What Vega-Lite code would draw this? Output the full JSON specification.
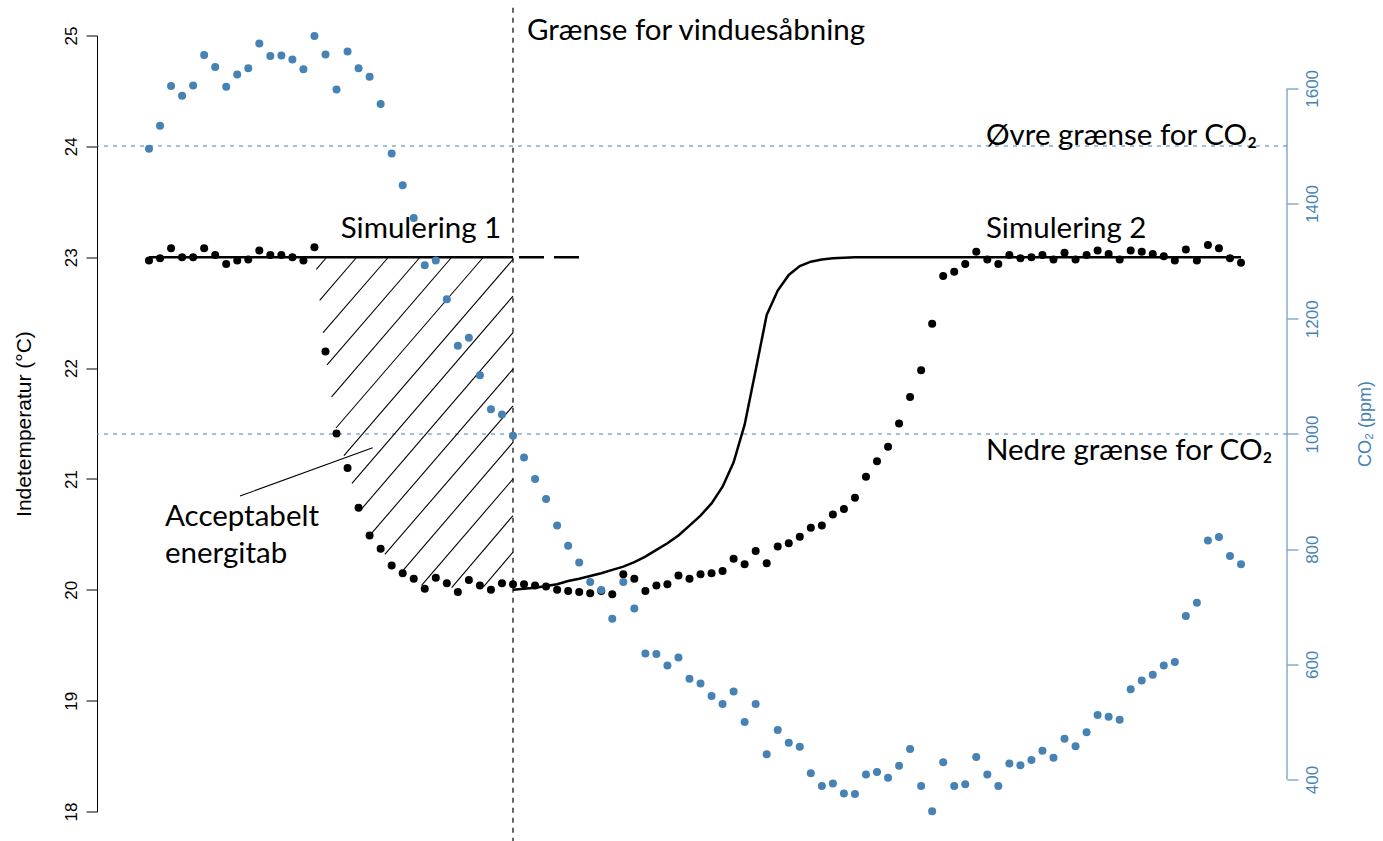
{
  "$schema": "https://vega.github.io/schema/vega-lite/v6.json",
  "width": 1190,
  "height": 776.1,
  "autosize": {"type": "none"},
  "padding": {"left": 97, "top": 35.5, "right": 96, "bottom": 29.4},
  "background": "white",
  "config": {"view": {"stroke": null}, "axis": {"grid": false}},
  "datasets": {
    "temp": [
      {"i":1,"temp":22.97},{"i":2,"temp":22.99},{"i":3,"temp":23.08},{"i":4,"temp":23.0},{"i":5,"temp":23.0},
      {"i":6,"temp":23.08},{"i":7,"temp":23.02},{"i":8,"temp":22.94},{"i":9,"temp":22.97},{"i":10,"temp":22.98},
      {"i":11,"temp":23.06},{"i":12,"temp":23.02},{"i":13,"temp":23.02},{"i":14,"temp":23.0},{"i":15,"temp":22.97},
      {"i":16,"temp":23.09},{"i":17,"temp":22.15},{"i":18,"temp":21.41},{"i":19,"temp":21.1},{"i":20,"temp":20.74},
      {"i":21,"temp":20.49},{"i":22,"temp":20.37},{"i":23,"temp":20.22},{"i":24,"temp":20.15},{"i":25,"temp":20.1},
      {"i":26,"temp":20.01},{"i":27,"temp":20.11},{"i":28,"temp":20.06},{"i":29,"temp":19.98},{"i":30,"temp":20.09},
      {"i":31,"temp":20.04},{"i":32,"temp":20.0},{"i":33,"temp":20.06},{"i":34,"temp":20.05},{"i":35,"temp":20.05},
      {"i":36,"temp":20.04},{"i":37,"temp":20.03},{"i":38,"temp":20.0},{"i":39,"temp":19.99},{"i":40,"temp":19.98},
      {"i":41,"temp":19.97},{"i":42,"temp":19.99},{"i":43,"temp":19.96},{"i":44,"temp":20.14},{"i":45,"temp":20.1},
      {"i":46,"temp":19.99},{"i":47,"temp":20.04},{"i":48,"temp":20.05},{"i":49,"temp":20.13},{"i":50,"temp":20.1},
      {"i":51,"temp":20.14},{"i":52,"temp":20.15},{"i":53,"temp":20.17},{"i":54,"temp":20.28},{"i":55,"temp":20.23},
      {"i":56,"temp":20.35},{"i":57,"temp":20.24},{"i":58,"temp":20.39},{"i":59,"temp":20.42},{"i":60,"temp":20.48},
      {"i":61,"temp":20.56},{"i":62,"temp":20.58},{"i":63,"temp":20.68},{"i":64,"temp":20.73},{"i":65,"temp":20.83},
      {"i":66,"temp":21.02},{"i":67,"temp":21.16},{"i":68,"temp":21.29},{"i":69,"temp":21.5},{"i":70,"temp":21.74},
      {"i":71,"temp":21.98},{"i":72,"temp":22.4},{"i":73,"temp":22.83},{"i":74,"temp":22.87},{"i":75,"temp":22.94},
      {"i":76,"temp":23.05},{"i":77,"temp":22.98},{"i":78,"temp":22.94},{"i":79,"temp":23.02},{"i":80,"temp":22.99},
      {"i":81,"temp":23.0},{"i":82,"temp":23.02},{"i":83,"temp":22.98},{"i":84,"temp":23.04},{"i":85,"temp":22.98},
      {"i":86,"temp":23.02},{"i":87,"temp":23.06},{"i":88,"temp":23.03},{"i":89,"temp":22.98},{"i":90,"temp":23.06},
      {"i":91,"temp":23.05},{"i":92,"temp":23.03},{"i":93,"temp":23.01},{"i":94,"temp":22.97},{"i":95,"temp":23.07},
      {"i":96,"temp":22.97},{"i":97,"temp":23.11},{"i":98,"temp":23.08},{"i":99,"temp":22.99},{"i":100,"temp":22.95}
    ],
    "co2": [
      {"i":1,"co2":1495},{"i":2,"co2":1535},{"i":3,"co2":1604},{"i":4,"co2":1587},{"i":5,"co2":1605},
      {"i":6,"co2":1658},{"i":7,"co2":1637},{"i":8,"co2":1603},{"i":9,"co2":1624},{"i":10,"co2":1635},
      {"i":11,"co2":1678},{"i":12,"co2":1656},{"i":13,"co2":1657},{"i":14,"co2":1650},{"i":15,"co2":1633},
      {"i":16,"co2":1691},{"i":17,"co2":1659},{"i":18,"co2":1598},{"i":19,"co2":1664},{"i":20,"co2":1635},
      {"i":21,"co2":1620},{"i":22,"co2":1573},{"i":23,"co2":1487},{"i":24,"co2":1432},{"i":25,"co2":1375},
      {"i":26,"co2":1293},{"i":27,"co2":1301},{"i":28,"co2":1234},{"i":29,"co2":1153},{"i":30,"co2":1167},
      {"i":31,"co2":1102},{"i":32,"co2":1043},{"i":33,"co2":1034},{"i":34,"co2":997},{"i":35,"co2":959},
      {"i":36,"co2":922},{"i":37,"co2":887},{"i":38,"co2":841},{"i":39,"co2":806},{"i":40,"co2":777},
      {"i":41,"co2":743},{"i":42,"co2":729},{"i":43,"co2":679},{"i":44,"co2":743},{"i":45,"co2":697},
      {"i":46,"co2":619},{"i":47,"co2":618},{"i":48,"co2":598},{"i":49,"co2":612},{"i":50,"co2":575},
      {"i":51,"co2":567},{"i":52,"co2":545},{"i":53,"co2":531},{"i":54,"co2":553},{"i":55,"co2":500},
      {"i":56,"co2":531},{"i":57,"co2":444},{"i":58,"co2":486},{"i":59,"co2":464},{"i":60,"co2":457},
      {"i":61,"co2":411},{"i":62,"co2":389},{"i":63,"co2":393},{"i":64,"co2":376},{"i":65,"co2":375},
      {"i":66,"co2":409},{"i":67,"co2":413},{"i":68,"co2":403},{"i":69,"co2":424},{"i":70,"co2":453},
      {"i":71,"co2":389},{"i":72,"co2":345},{"i":73,"co2":430},{"i":74,"co2":389},{"i":75,"co2":392},
      {"i":76,"co2":439},{"i":77,"co2":409},{"i":78,"co2":389},{"i":79,"co2":428},{"i":80,"co2":425},
      {"i":81,"co2":434},{"i":82,"co2":450},{"i":83,"co2":438},{"i":84,"co2":471},{"i":85,"co2":458},
      {"i":86,"co2":482},{"i":87,"co2":512},{"i":88,"co2":509},{"i":89,"co2":504},{"i":90,"co2":557},
      {"i":91,"co2":572},{"i":92,"co2":582},{"i":93,"co2":598},{"i":94,"co2":604},{"i":95,"co2":684},
      {"i":96,"co2":707},{"i":97,"co2":815},{"i":98,"co2":821},{"i":99,"co2":788},{"i":100,"co2":774}
    ],
    "sim1": [{"i":1,"temp":23},{"i":34,"temp":23}],
    "sim1ext": [{"i":34,"temp":23},{"i":40.1,"temp":23}],
    "sim2": [
      {"i":34,"temp":20.0},{"i":35,"temp":20.01},{"i":36,"temp":20.02},{"i":37,"temp":20.035},{"i":38,"temp":20.05},
      {"i":39,"temp":20.08},{"i":40,"temp":20.1},{"i":41,"temp":20.125},{"i":42,"temp":20.15},{"i":43,"temp":20.18},
      {"i":44,"temp":20.21},{"i":45,"temp":20.25},{"i":46,"temp":20.3},{"i":47,"temp":20.36},{"i":48,"temp":20.42},
      {"i":49,"temp":20.49},{"i":50,"temp":20.58},{"i":51,"temp":20.67},{"i":52,"temp":20.78},{"i":53,"temp":20.93},
      {"i":54,"temp":21.15},{"i":55,"temp":21.49},{"i":56,"temp":21.98},{"i":57,"temp":22.48},{"i":58,"temp":22.7},
      {"i":59,"temp":22.84},{"i":60,"temp":22.92},{"i":61,"temp":22.96},{"i":62,"temp":22.98},{"i":63,"temp":22.99},
      {"i":64,"temp":22.995},{"i":65,"temp":23.0},{"i":100,"temp":23.0}
    ],
    "hatch": [
      {"i0":16.17,"t0":22.89,"i1":17.11,"t1":23},
      {"i0":16.47,"t0":22.61,"i1":19.83,"t1":23},
      {"i0":16.78,"t0":22.32,"i1":22.7,"t1":23},
      {"i0":17.14,"t0":22.03,"i1":25.57,"t1":23},
      {"i0":17.55,"t0":21.74,"i1":28.44,"t1":23},
      {"i0":17.95,"t0":21.46,"i1":31.31,"t1":23},
      {"i0":18.67,"t0":21.21,"i1":34,"t1":22.98},
      {"i0":19.4,"t0":20.96,"i1":34,"t1":22.65},
      {"i0":20.1,"t0":20.71,"i1":34,"t1":22.32},
      {"i0":21.0,"t0":20.49,"i1":34,"t1":21.99},
      {"i0":22.38,"t0":20.32,"i1":34,"t1":21.66},
      {"i0":23.9,"t0":20.16,"i1":34,"t1":21.33},
      {"i0":25.71,"t0":20.04,"i1":34,"t1":21.0},
      {"i0":28.44,"t0":20.02,"i1":34,"t1":20.67},
      {"i0":31.34,"t0":20.03,"i1":34,"t1":20.34}
    ],
    "window": [{"event":"Grænse for vinduesåbning","i":34}],
    "limits": [{"limit":"Øvre grænse for CO₂","co2":1500},{"limit":"Nedre grænse for CO₂","co2":1000}]
  },
  "layer": [
    {
      "data": {"name": "limits"},
      "mark": {"type": "rule", "stroke": "steelblue", "strokeWidth": 1.2, "strokeDash": [4, 5]},
      "encoding": {
        "y": {"field": "co2", "type": "quantitative", "scale": {"domain": [344.4, 1691.8], "nice": false, "zero": false}, "axis": null}
      }
    },
    {
      "data": {"name": "hatch"},
      "mark": {"type": "rule", "stroke": "black", "strokeWidth": 1.1},
      "encoding": {
        "x": {"field": "i0", "type": "quantitative", "scale": {"domain": [-3.714, 104.17], "nice": false, "zero": false}, "axis": null},
        "x2": {"field": "i1"},
        "y": {"field": "t0", "type": "quantitative", "scale": {"domain": [18, 25], "nice": false, "zero": false},
          "axis": {"orient": "left", "values": [18,19,20,21,22,23,24,25], "labelAngle": -90, "labelAlign": "center", "labelBaseline": "bottom",
            "labelFont": "Liberation Sans", "labelFontSize": 17, "labelColor": "black", "labelPadding": 6, "labelFlush": false, "labelOverlap": false,
            "tickColor": "black", "tickSize": 11, "tickWidth": 1, "domainColor": "black", "domainWidth": 1,
            "title": "Indetemperatur (°C)", "titleFont": "Liberation Sans", "titleFontSize": 21, "titleFontWeight": "normal", "titleColor": "black", "titlePadding": 28}},
        "y2": {"field": "t1"}
      }
    },
    {
      "data": {"name": "window"},
      "mark": {"type": "rule", "stroke": "black", "strokeWidth": 1.2, "strokeDash": [5, 5]},
      "encoding": {
        "x": {"field": "i", "type": "quantitative", "scale": {"domain": [-3.714, 104.17], "nice": false, "zero": false}, "axis": null},
        "y": {"datum": 17.72, "type": "quantitative", "scale": {"domain": [18, 25], "nice": false, "zero": false}, "axis": null},
        "y2": {"datum": 25.28}
      }
    },
    {
      "data": {"name": "sim1"},
      "mark": {"type": "line", "stroke": "black", "strokeWidth": 2.5},
      "encoding": {
        "x": {"field": "i", "type": "quantitative", "scale": {"domain": [-3.714, 104.17], "nice": false, "zero": false}, "axis": null},
        "y": {"field": "temp", "type": "quantitative", "scale": {"domain": [18, 25], "nice": false, "zero": false}, "axis": null}
      }
    },
    {
      "data": {"name": "sim1ext"},
      "mark": {"type": "line", "stroke": "black", "strokeWidth": 2.5, "strokeDash": [25, 10], "strokeDashOffset": -6},
      "encoding": {
        "x": {"field": "i", "type": "quantitative", "scale": {"domain": [-3.714, 104.17], "nice": false, "zero": false}, "axis": null},
        "y": {"field": "temp", "type": "quantitative", "scale": {"domain": [18, 25], "nice": false, "zero": false}, "axis": null}
      }
    },
    {
      "data": {"name": "sim2"},
      "mark": {"type": "line", "stroke": "black", "strokeWidth": 2.5},
      "encoding": {
        "x": {"field": "i", "type": "quantitative", "scale": {"domain": [-3.714, 104.17], "nice": false, "zero": false}, "axis": null},
        "y": {"field": "temp", "type": "quantitative", "scale": {"domain": [18, 25], "nice": false, "zero": false}, "axis": null}
      }
    },
    {
      "data": {"name": "temp"},
      "mark": {"type": "circle", "color": "black", "size": 64, "opacity": 1},
      "encoding": {
        "x": {"field": "i", "type": "quantitative", "scale": {"domain": [-3.714, 104.17], "nice": false, "zero": false}, "axis": null},
        "y": {"field": "temp", "type": "quantitative", "scale": {"domain": [18, 25], "nice": false, "zero": false}, "axis": null}
      }
    },
    {
      "data": {"values": [{"note": "Acceptabelt energitab"}]},
      "mark": {"type": "rule", "stroke": "black", "strokeWidth": 1.1},
      "encoding": {
        "x": {"datum": 9.25, "type": "quantitative", "scale": {"domain": [-3.714, 104.17], "nice": false, "zero": false}, "axis": null},
        "x2": {"datum": 21.28},
        "y": {"datum": 20.846, "type": "quantitative", "scale": {"domain": [18, 25], "nice": false, "zero": false}, "axis": null},
        "y2": {"datum": 21.282}
      }
    },
    {
      "data": {"values": [{"label": "Grænse for vinduesåbning"}]},
      "mark": {"type": "text", "font": "Lato", "fontSize": 29.5, "align": "left", "baseline": "alphabetic", "color": "black"},
      "encoding": {
        "x": {"datum": 35.27, "type": "quantitative", "scale": {"domain": [-3.714, 104.17], "nice": false, "zero": false}, "axis": null},
        "y": {"datum": 24.959, "type": "quantitative", "scale": {"domain": [18, 25], "nice": false, "zero": false}, "axis": null},
        "text": {"field": "label"}
      }
    },
    {
      "data": {"values": [{"label": "Øvre grænse for CO₂"}]},
      "mark": {"type": "text", "font": "Lato, Noto Sans", "fontSize": 29.5, "align": "left", "baseline": "alphabetic", "color": "black"},
      "encoding": {
        "x": {"datum": 76.88, "type": "quantitative", "scale": {"domain": [-3.714, 104.17], "nice": false, "zero": false}, "axis": null},
        "y": {"datum": 24.012, "type": "quantitative", "scale": {"domain": [18, 25], "nice": false, "zero": false}, "axis": null},
        "text": {"field": "label"}
      }
    },
    {
      "data": {"values": [{"label": "Simulering 1"}]},
      "mark": {"type": "text", "font": "Lato", "fontSize": 29.5, "align": "left", "baseline": "alphabetic", "color": "black"},
      "encoding": {
        "x": {"datum": 18.38, "type": "quantitative", "scale": {"domain": [-3.714, 104.17], "nice": false, "zero": false}, "axis": null},
        "y": {"datum": 23.17, "type": "quantitative", "scale": {"domain": [18, 25], "nice": false, "zero": false}, "axis": null},
        "text": {"field": "label"}
      }
    },
    {
      "data": {"values": [{"label": "Simulering 2"}]},
      "mark": {"type": "text", "font": "Lato", "fontSize": 29.5, "align": "left", "baseline": "alphabetic", "color": "black"},
      "encoding": {
        "x": {"datum": 76.88, "type": "quantitative", "scale": {"domain": [-3.714, 104.17], "nice": false, "zero": false}, "axis": null},
        "y": {"datum": 23.17, "type": "quantitative", "scale": {"domain": [18, 25], "nice": false, "zero": false}, "axis": null},
        "text": {"field": "label"}
      }
    },
    {
      "data": {"values": [{"label": "Nedre grænse for CO₂"}]},
      "mark": {"type": "text", "font": "Lato, Noto Sans", "fontSize": 29.5, "align": "left", "baseline": "alphabetic", "color": "black"},
      "encoding": {
        "x": {"datum": 76.88, "type": "quantitative", "scale": {"domain": [-3.714, 104.17], "nice": false, "zero": false}, "axis": null},
        "y": {"datum": 21.171, "type": "quantitative", "scale": {"domain": [18, 25], "nice": false, "zero": false}, "axis": null},
        "text": {"field": "label"}
      }
    },
    {
      "data": {"values": [{"label": "Acceptabelt"}]},
      "mark": {"type": "text", "font": "Lato", "fontSize": 29.5, "align": "left", "baseline": "alphabetic", "color": "black"},
      "encoding": {
        "x": {"datum": 2.45, "type": "quantitative", "scale": {"domain": [-3.714, 104.17], "nice": false, "zero": false}, "axis": null},
        "y": {"datum": 20.576, "type": "quantitative", "scale": {"domain": [18, 25], "nice": false, "zero": false}, "axis": null},
        "text": {"field": "label"}
      }
    },
    {
      "data": {"values": [{"label": "energitab"}]},
      "mark": {"type": "text", "font": "Lato", "fontSize": 29.5, "align": "left", "baseline": "alphabetic", "color": "black"},
      "encoding": {
        "x": {"datum": 2.45, "type": "quantitative", "scale": {"domain": [-3.714, 104.17], "nice": false, "zero": false}, "axis": null},
        "y": {"datum": 20.239, "type": "quantitative", "scale": {"domain": [18, 25], "nice": false, "zero": false}, "axis": null},
        "text": {"field": "label"}
      }
    },
    {
      "data": {"values": [{"axis": "CO2"}]},
      "mark": {"type": "rule", "stroke": "steelblue", "strokeWidth": 1},
      "encoding": {
        "x": {"datum": 104.17, "type": "quantitative", "scale": {"domain": [-3.714, 104.17], "nice": false, "zero": false}, "axis": null},
        "y": {"datum": 400, "type": "quantitative", "scale": {"domain": [344.4, 1691.8], "nice": false, "zero": false}, "axis": null},
        "y2": {"datum": 1600}
      }
    },
    {
      "data": {"name": "co2"},
      "mark": {"type": "circle", "color": "steelblue", "size": 64, "opacity": 1},
      "encoding": {
        "x": {"field": "i", "type": "quantitative", "scale": {"domain": [-3.714, 104.17], "nice": false, "zero": false}, "axis": null},
        "y": {"field": "co2", "type": "quantitative", "scale": {"domain": [344.4, 1691.8], "nice": false, "zero": false},
          "axis": {"orient": "right", "values": [400,600,800,1000,1200,1400,1600], "format": "d", "domain": false, "labelAngle": -90, "labelAlign": "center", "labelBaseline": "top",
            "labelFont": "Liberation Sans", "labelFontSize": 17, "labelColor": "steelblue", "labelPadding": 6, "labelFlush": false, "labelOverlap": false,
            "tickColor": "steelblue", "tickSize": 11, "tickWidth": 1,
            "title": "CO₂ (ppm)", "titleFont": "Liberation Sans", "titleFontSize": 18, "titleFontWeight": "normal", "titleColor": "steelblue", "titleAngle": -90, "titleBaseline": "top", "titlePadding": 36}}
      }
    }
  ],
  "resolve": {"scale": {"y": "independent"}}
}
